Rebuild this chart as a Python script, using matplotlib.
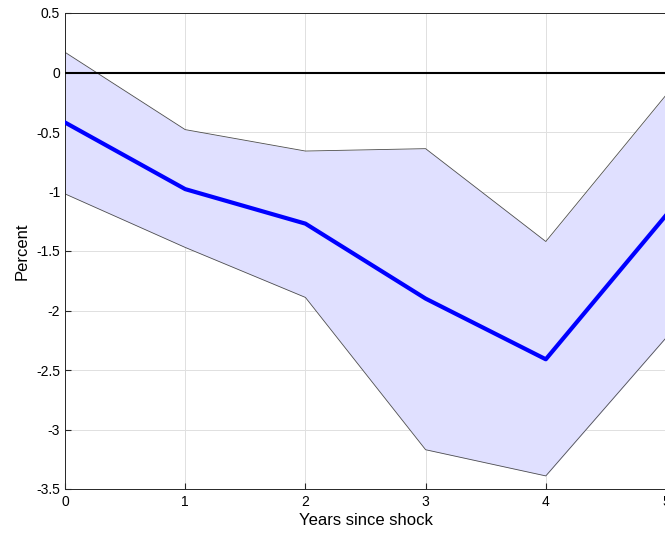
import matplotlib
matplotlib.use("Agg")
import matplotlib.pyplot as plt
import numpy as np

plt.rcParams['font.family'] = ['Liberation Sans', 'DejaVu Sans']

# impulse response with confidence band
years = [0, 1, 2, 3, 4, 5]
response = [-0.42, -0.98, -1.27, -1.90, -2.41, -1.20]
upper = [0.17, -0.48, -0.66, -0.64, -1.42, -0.19]
lower = [-1.02, -1.47, -1.89, -3.17, -3.39, -2.23]

fig = plt.figure(figsize=(6.65, 5.34), dpi=100)
ax = fig.add_axes([65 / 665, 45 / 534, 601 / 665, 476 / 534])

ax.fill_between(years, lower, upper, color=(0.88, 0.88, 1.0), linewidth=0, zorder=1)
ax.plot(years, upper, color=(0.3, 0.3, 0.3), linewidth=0.6, zorder=2)
ax.plot(years, lower, color=(0.3, 0.3, 0.3), linewidth=0.6, zorder=2)
ax.axhline(0, color='black', linewidth=1.5, zorder=3)
ax.plot(years, response, color=(0, 0, 1), linewidth=3, zorder=4)

ax.set_xlim(0, 5)
ax.set_ylim(-3.5, 0.5)
ax.set_xticks(np.arange(0, 6, 1))
ax.set_yticks(np.arange(-3.5, 0.51, 0.5))
ax.set_yticklabels(['-3.5', '-3', '-2.5', '-2', '-1.5', '-1', '-0.5', '0', '0.5'])
ax.grid(True, color=(0.88, 0.88, 0.88), linewidth=0.7)
ax.set_axisbelow(True)
ax.tick_params(direction='in', labelsize=10, length=4, color=(0.15, 0.15, 0.15),
               top=False, right=False)
ax.tick_params(axis='x', pad=4)
for sp in ax.spines.values():
    sp.set_color((0.15, 0.15, 0.15))
    sp.set_linewidth(0.7)

ax.set_xlabel('Years since shock', fontsize=12, labelpad=3)
ax.set_ylabel('Percent', fontsize=12, labelpad=5)

fig.savefig('out.png', dpi=100)
